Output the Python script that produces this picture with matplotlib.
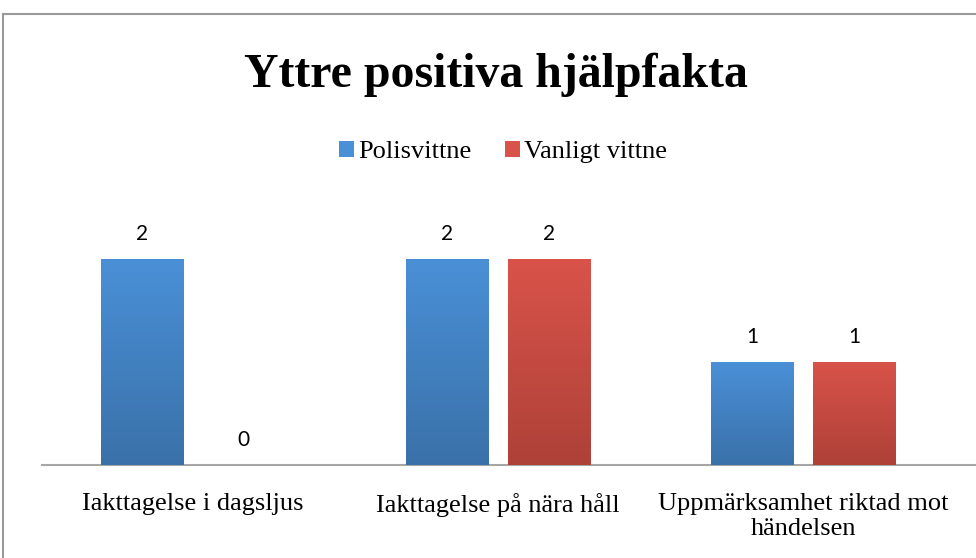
import numpy as np
import matplotlib
matplotlib.use("Agg")
import matplotlib.pyplot as plt
from matplotlib.patches import Rectangle
from matplotlib.colors import LinearSegmentedColormap

categories = ["Iakttagelse i dagsljus", "Iakttagelse på nära håll",
              "Uppmärksamhet riktad mot\nhändelsen"]
series_names = ["Polisvittne", "Vanligt vittne"]
polis = [2, 2, 1]
vanligt = [0, 2, 1]

top_cols = ["#4A90D7", "#D9534A"]
bot_cols = ["#3A71A9", "#AE4138"]

fig = plt.figure(figsize=(9.76, 5.58), dpi=100)
# outer chart border (cropped on right/bottom as in the original)
fig.patches.append(Rectangle((3 / 976, -0.1), 1.2, (558 - 14) / 558 + 0.1,
                             transform=fig.transFigure, fill=False,
                             ec="#999999", lw=1.5))

ax = fig.add_axes([42 / 976, (558 - 465) / 558, (976 - 42) / 976, (465 - 200) / 558])
x = np.arange(len(categories))
w, off = 0.27, 0.167
grad = np.linspace(1, 0, 256).reshape(-1, 1)

for vals, dx, tc, bc in [(polis, -off, top_cols[0], bot_cols[0]),
                         (vanligt, off, top_cols[1], bot_cols[1])]:
    bars = ax.bar(x + dx, vals, w, color=tc, zorder=2)
    cmap = LinearSegmentedColormap.from_list("g", [bc, tc])
    for b, v in zip(bars, vals):
        if v > 0:
            im = ax.imshow(grad, cmap=cmap, aspect="auto", zorder=3,
                           extent=[b.get_x(), b.get_x() + b.get_width(), 0, v])
            im.set_clip_path(b)
        ax.text(b.get_x() + b.get_width() / 2, v + 0.24, str(v), ha="center",
                va="center", fontsize=15, family="Lato", zorder=4)

ax.set_xlim(-0.495, 2.567)
ax.set_ylim(0, 2.57)
ax.set_yticks([])
ax.set_xticks(x)
ax.set_xticklabels(categories, family="Liberation Serif", fontsize=19,
                   linespacing=1.2)
ax.tick_params(axis="x", length=0, pad=20)
for s in ["top", "right", "left"]:
    ax.spines[s].set_visible(False)
ax.spines["bottom"].set_color("#A6A6A6")
ax.spines["bottom"].set_linewidth(1.5)

fig.text(496 / 976, (558 - 75) / 558, "Yttre positiva hjälpfakta", ha="center",
         va="center", family="Liberation Serif", fontweight="bold", fontsize=34.5)

handles = [Rectangle((0, 0), 1, 1, fc=c) for c in top_cols]
fig.legend(handles, series_names, loc="center", ncol=2,
           bbox_to_anchor=(503 / 976, (558 - 152) / 558), frameon=False,
           prop={"family": "Liberation Serif", "size": 19},
           handlelength=0.55, handleheight=0.55, handletextpad=0.15,
           columnspacing=1.3)

fig.savefig("out.png", dpi=100, facecolor="white")
